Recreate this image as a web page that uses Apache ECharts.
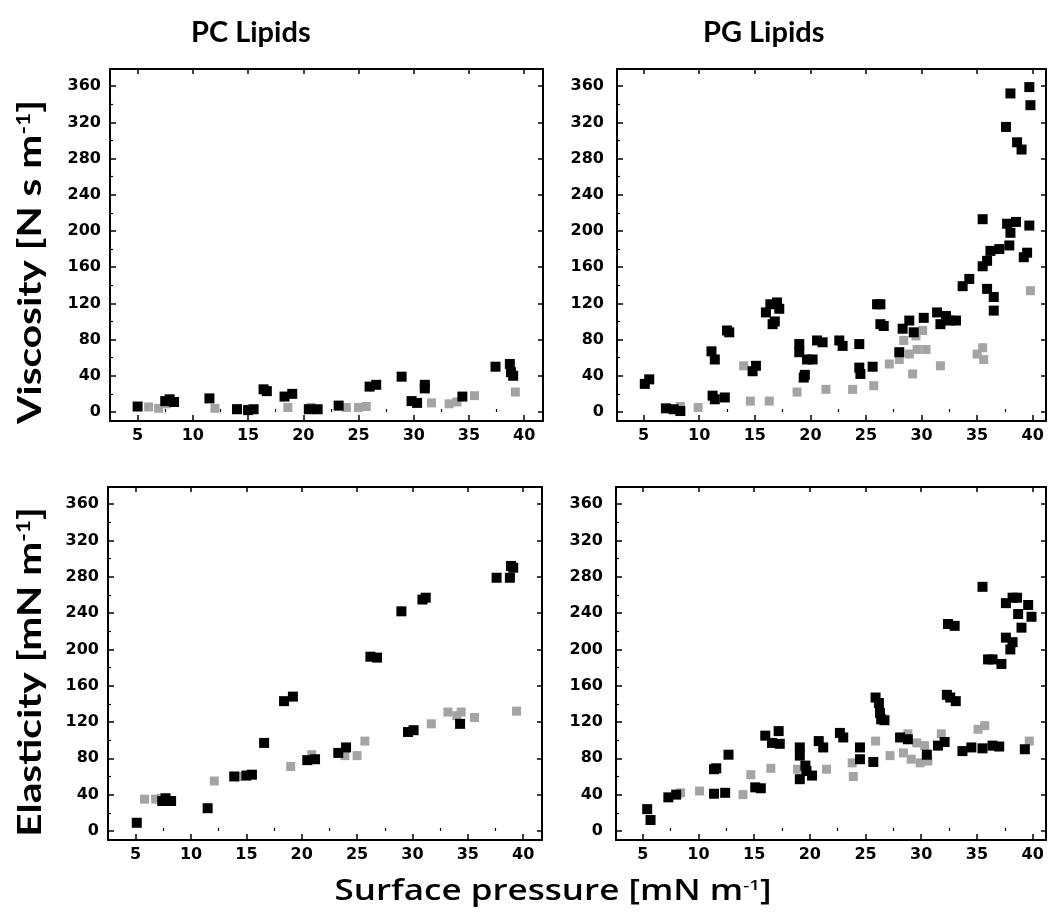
<!DOCTYPE html>
<html>
<head>
<meta charset="utf-8">
<script src="https://cdn.jsdelivr.net/npm/echarts@6/dist/echarts.min.js"></script>
<style>
html,body{margin:0;padding:0;background:#fff;}
#c{width:1049px;height:919px;}
</style>
</head>
<body>
<div id="c"></div>
<script>
// ---- tick labels ----
const xTicks = [5, 10, 15, 20, 25, 30, 35, 40];
const xMinorTicks = [7.5, 12.5, 17.5, 22.5, 27.5, 32.5, 37.5];
const yTicks = [0, 40, 80, 120, 160, 200, 240, 280, 320, 360];
const yMinorTicks = [20, 60, 100, 140, 180, 220, 260, 300, 340];

// ---- panel titles ----
const colTitles = ['PC Lipids', 'PG Lipids'];

// ---- data: [surface pressure, value] ----
// PC viscosity
const pcViscBlack = [[5,6],[7.5,12],[8.3,11],[7.9,14],[11.5,15],[14,3],[15,2],[15.5,3],[16.4,25],[16.7,23],[18.3,17],[19,20],[20.5,3],[21.3,3],[23.2,7],[26,28],[26.6,30],[28.9,39],[29.8,12],[30.3,10],[31,30],[31,26],[34.4,17],[37.4,50],[38.7,53],[39,40],[38.8,44]];
const pcViscGray = [[6,5.5],[6.9,4],[7.6,9],[12,4],[14,4],[15,3],[18.6,5],[20.7,5],[23.9,5],[25,5],[25.7,6],[31.6,10],[33.2,9],[33.9,11],[35.5,18],[39.2,22]];
// PG viscosity
const pgViscBlack = [[5.1,31],[5.5,36],[7,4],[7.7,3],[8.3,1],[11.1,67],[11.4,58],[11.2,18],[11.4,14],[12.3,16],[12.5,90],[12.7,88],[15.1,51],[14.8,45],[16,110],[16.4,119],[16.6,97],[16.8,100],[17,121],[17.2,114],[19,75],[19,66],[19.4,38],[19.5,41],[19.7,58],[20.2,58],[20.6,79],[21.1,77],[22.6,79],[22.9,73],[24.4,75],[24.4,49],[24.5,42],[25.6,50],[26,119],[26.3,119],[26.3,97],[26.6,95],[28,66],[28.3,92],[28.9,101],[29.3,88],[30.2,104],[31.4,110],[31.7,97],[32.2,106],[32.5,101],[33.1,101],[33.7,139],[34.3,147],[35.5,213],[35.5,161],[35.9,167],[35.9,136],[36.2,178],[37,180],[36.5,127],[36.5,112],[37.6,315],[37.7,208],[38,198],[37.9,184],[38,352],[38.5,210],[38.6,298],[39,290],[39.2,171],[39.5,176],[39.7,359],[39.8,339],[39.7,206]];
const pgViscGray = [[8.3,6],[9.9,5],[14,51],[14.6,12],[16.3,12],[18.8,22],[21.4,25],[23.8,25],[25.7,29],[27.1,53],[28,58],[28.4,79],[28.9,64],[29.2,42],[29.5,84],[29.6,69],[30.1,90],[30.4,69],[31.7,51],[35,64],[35.5,71],[35.6,58],[39.8,134]];
// PC elasticity
const pcElastBlack = [[5.1,9],[7.4,33],[8.2,33],[7.7,36],[11.5,25],[13.9,60],[15,61],[15.5,62],[16.6,97],[18.4,143],[19.2,148],[20.5,78],[21.2,79],[23.3,86],[24,92],[26.2,192],[26.8,191],[29,242],[30.9,255],[31.2,257],[29.6,109],[30.1,111],[34.3,118],[37.6,279],[38.8,279],[38.9,292],[39.1,290]];
const pcElastGray = [[5.8,35],[6.8,35],[7.3,36],[12.1,55],[14.2,60],[19,71],[20.9,84],[23.9,83],[25,83],[25.7,99],[31.7,118],[33.2,131],[34.4,131],[34,127],[35.6,125],[39.4,132]];
// PG elasticity
const pgElastBlack = [[5.4,24],[5.7,12],[7.3,37],[8,40],[11.4,68],[11.6,69],[11.4,41],[12.4,42],[12.7,84],[15.1,48],[15.6,47],[16,105],[16.6,97],[17.2,110],[17.3,96],[19.1,92],[19.1,83],[19.1,57],[19.6,72],[19.7,66],[20.2,61],[20.8,99],[21.2,92],[22.7,108],[23,103],[24.5,92],[24.5,79],[25.7,76],[25.9,147],[26.2,141],[26.3,130],[26.4,123],[26.7,122],[28.1,103],[28.8,101],[30.5,84],[31.5,94],[32.1,98],[32.3,150],[32.6,147],[33.1,143],[32.4,228],[33,226],[33.7,88],[34.5,92],[35.5,269],[35.5,91],[36.4,94],[37,93],[36,189],[36.4,189],[37.2,184],[37.6,251],[37.6,213],[38,200],[38.2,208],[38.2,257],[38.6,257],[38.7,239],[39,224],[39.6,249],[39.9,236],[39.3,90]];
const pgElastGray = [[8.4,42],[10.1,44],[14,40],[14.7,62],[16.5,69],[18.9,68],[21.5,68],[23.8,75],[23.9,60],[25.9,99],[27.2,83],[28.4,86],[28.8,107],[29.1,79],[29.6,97],[29.9,75],[30.3,94],[30.6,77],[31.8,107],[35.1,112],[35.7,116],[36.4,94],[39.7,99]];

const panels = [
  {grid:{left:110, top:69, width:433, height:352}, xMin:2.5, xMax:41.7, yLabelMargin:9, black:pcViscBlack, gray:pcViscGray},
  {grid:{left:617, top:69, width:429, height:352}, xMin:2.6, xMax:41.2, yLabelMargin:13, black:pgViscBlack, gray:pgViscGray},
  {grid:{left:108, top:487, width:434, height:353}, xMin:2.5, xMax:41.7, yLabelMargin:9, black:pcElastBlack, gray:pcElastGray},
  {grid:{left:616, top:487, width:430, height:353}, xMin:2.6, xMax:41.2, yLabelMargin:13, black:pgElastBlack, gray:pgElastGray}
];
const yMin = -10, yMax = 379;

const labelFont = {fontFamily:'DejaVu Sans', fontWeight:'bold', fontSize:16, color:'#000'};
const grids = [], xAxes = [], yAxes = [], series = [];
panels.forEach((p, i) => {
  grids.push(Object.assign({containLabel:false}, p.grid));
  const line = {show:true, onZero:false, lineStyle:{color:'#000', width:2}};
  const noLine = {show:false};
  const base = {type:'value', gridIndex:i, min:p.xMin, max:p.xMax, splitLine:{show:false}};
  const xMain = xAxes.length;
  xAxes.push(Object.assign({}, base, {position:'bottom', axisLine:line,
    axisTick:{show:true, inside:true, length:6, lineStyle:{color:'#000', width:1.5}, customValues:xTicks},
    axisLabel:Object.assign({show:true, margin:7, customValues:xTicks}, labelFont)}));
  xAxes.push(Object.assign({}, base, {position:'bottom', axisLine:noLine,
    axisTick:{show:true, inside:true, length:3, lineStyle:{color:'#000', width:1.2}, customValues:xMinorTicks},
    axisLabel:{show:false}}));
  xAxes.push(Object.assign({}, base, {position:'top', axisLine:line,
    axisTick:{show:true, inside:true, length:5, lineStyle:{color:'#000', width:1.5}, customValues:xTicks},
    axisLabel:{show:false}}));
  const ybase = {type:'value', gridIndex:i, min:yMin, max:yMax, splitLine:{show:false}};
  const yMain = yAxes.length;
  yAxes.push(Object.assign({}, ybase, {position:'left', axisLine:line,
    axisTick:{show:true, inside:true, length:6, lineStyle:{color:'#000', width:1.5}, customValues:yTicks},
    axisLabel:Object.assign({show:true, margin:p.yLabelMargin, customValues:yTicks}, labelFont)}));
  yAxes.push(Object.assign({}, ybase, {position:'left', axisLine:noLine,
    axisTick:{show:true, inside:true, length:3, lineStyle:{color:'#000', width:1.2}, customValues:yMinorTicks},
    axisLabel:{show:false}}));
  yAxes.push(Object.assign({}, ybase, {position:'right', axisLine:line,
    axisTick:{show:true, inside:true, length:5, lineStyle:{color:'#000', width:1.5}, customValues:yTicks},
    axisLabel:{show:false}}));
  series.push({type:'scatter', xAxisIndex:xMain, yAxisIndex:yMain, data:p.gray, symbol:'rect', symbolSize:9,
    itemStyle:{color:'#a4a4a4', opacity:1}, silent:true, animation:false});
  series.push({type:'scatter', xAxisIndex:xMain, yAxisIndex:yMain, data:p.black, symbol:'rect', symbolSize:10,
    itemStyle:{color:'#000', opacity:1}, silent:true, animation:false});
});

const titleFont = 'bold 29px Lato';
const rich = (size, weight, fam) => ({
  a:{fontSize:size, fontWeight:weight, fontFamily:fam, fill:'#000', color:'#000'},
  s:{fontSize:Math.round(size*0.55), fontWeight:weight, fontFamily:fam, fill:'#000', color:'#000', verticalAlign:'top', padding:[0,0,Math.round(size*0.45),0]}
});

const graphic = [
  {type:'text', left:251 - 60, top:18, style:{text:colTitles[0], font:titleFont, fill:'#000'}},
  {type:'text', left:763 - 60, top:18, style:{text:colTitles[1], font:titleFont, fill:'#000'}},
  {type:'text', x:31, y:262, rotation:Math.PI/2, scaleX:1.27, style:{text:'{a|Viscosity [N s m}{s|-1}{a|]}', rich:rich(32,'bold','Lato'), align:'center', verticalAlign:'middle'}},
  {type:'text', x:31, y:672, rotation:Math.PI/2, scaleX:1.27, style:{text:'{a|Elasticity [mN m}{s|-1}{a|]}', rich:rich(32,'bold','Lato'), align:'center', verticalAlign:'middle'}},
  {type:'text', x:553, y:892, scaleX:1.25, style:{text:'{a|Surface pressure [mN m}{s|-1}{a|]}', rich:rich(28,'600','Open Sans'), align:'center', verticalAlign:'middle'}}
];

const chart = echarts.init(document.getElementById('c'), null, {renderer:'canvas'});
chart.setOption({
  backgroundColor:'#fff',
  animation:false,
  grid:grids,
  xAxis:xAxes,
  yAxis:yAxes,
  series:series,
  graphic:graphic
});
</script>
</body>
</html>
